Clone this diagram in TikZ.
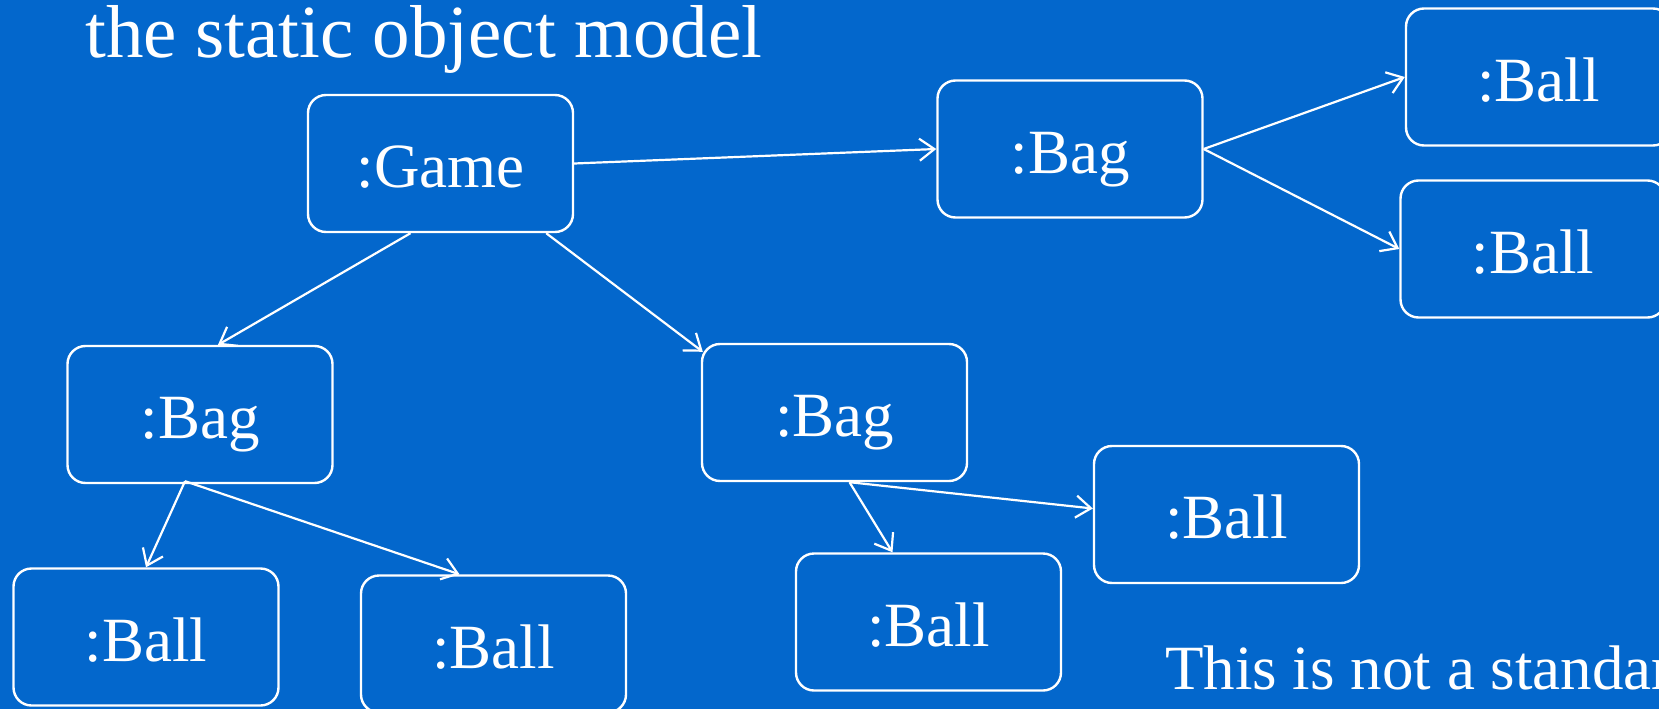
\documentclass[tikz,border=0pt]{standalone}
\usepackage{fontspec}
\usetikzlibrary{arrows.meta,calc}
\newfontfamily\serifface{Liberation Serif}
\definecolor{slideblue}{RGB}{3,103,204}

\begin{document}
\begin{tikzpicture}[x=1pt,y=-1pt,
  obj/.style={draw=white, line width=2.4pt, rounded corners=18pt,
    minimum width=265pt, minimum height=137pt, inner sep=0pt,
    text height=48pt, text depth=0pt,
    text=white, font=\serifface\fontsize{63}{70}\selectfont},
  link/.style={draw=white, line width=2.2pt,
    -{Straight Barb[length=15pt,width=22pt,line width=2.2pt]}},
  caption/.style={text=white, inner sep=0pt, anchor=base west}]

  % slide background
  \fill[slideblue] (0,0) rectangle (1659,709);
  \useasboundingbox (0,0) rectangle (1659,709);
  \clip (0,0) rectangle (1659,709);

  % title
  \node[caption, font=\serifface\fontsize{75}{80}\selectfont] (title) at (85,57)
    {the static object model};

  % objects
  \node[obj] (game)   at (440.5,163.5) {:Game};
  \node[obj] (bagTR)  at (1070,149)    {:Bag};
  \node[obj] (ballT1) at (1538.5,77)   {:Ball};
  \node[obj] (ballT2) at (1533,249)    {:Ball};
  \node[obj] (bagL)   at (200,414.5)   {:Bag};
  \node[obj] (bagM)   at (834.5,412.5) {:Bag};
  \node[obj] (ballMR) at (1226.5,514.5){:Ball};
  \node[obj] (ballBL) at (146,637)     {:Ball};
  \node[obj] (ballB2) at (493.5,644)   {:Ball};
  \node[obj] (ballMB) at (928.5,622)   {:Ball};

  % note at the bottom
  \node[caption, font=\serifface\fontsize{63}{70}\selectfont] (note) at (1165,689)
    {This is not a standard};

  % shared start points of the links
  \coordinate (bagLfoot) at ($(bagL.south)+(-15,-3)$);
  \coordinate (bagMfoot) at ($(bagM.south)+(15,0)$);

  % links
  \draw[link] (game.east) -- (bagTR.west);
  \draw[link] (bagTR.east) -- (ballT1.west);
  \draw[link] (bagTR.east) -- (ballT2.west);
  \draw[link] ($(game.south)+(-30,0)$) -- ($(bagL.north)+(18,0)$);
  \draw[link] ($(game.south east)+(-28,0)$) -- ($(bagM.north west)+(2,9)$);
  \draw[link] (bagLfoot) -- (ballBL.north);
  \draw[link] (bagLfoot) -- ($(ballB2.north)+(-34,0)$);
  \draw[link] (bagMfoot) -- ($(ballMB.north)+(-36,0)$);
  \draw[link] (bagMfoot) -- ($(ballMR.west)+(0,-6)$);
\end{tikzpicture}
\end{document}
